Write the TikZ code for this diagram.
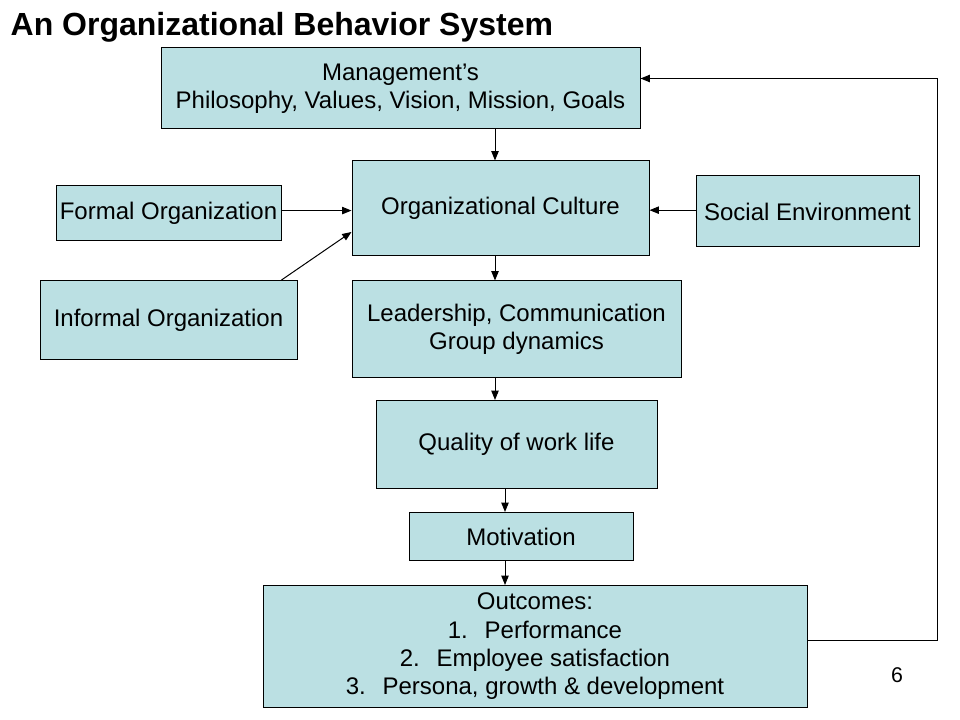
\documentclass[tikz,border=0pt]{standalone}
\usepackage{fontspec}
\setmainfont{Liberation Sans}
\usetikzlibrary{arrows.meta}
\definecolor{boxblue}{RGB}{187,224,227}
\newcommand{\boxfont}{\fontsize{18}{21.2}\selectfont}
\tikzset{
	obbox/.style={draw=black,line width=.75pt,fill=boxblue,align=center,
		inner sep=0pt,font=\boxfont},
	obarrow/.style={line width=.75pt,-{Triangle[length=7pt,width=5.5pt]}},
	obline/.style={line width=.75pt}
}
\begin{document}
\begin{tikzpicture}[x=.75pt,y=-.75pt]
				\useasboundingbox[fill=white] (0,0) rectangle (960,720);
				\node[anchor=base west,font=\fontsize{24}{28}\selectfont\bfseries]
					(title) at (6,36) {An Organizational Behavior System};
				\node[obbox,minimum width=359.25pt,minimum height=60.75pt]
					(mgmt) at (400.5,88.5)
					{Management’s\\Philosophy, Values, Vision, Mission, Goals};
				\node[obbox,minimum width=222.75pt,minimum height=71.25pt]
					(culture) at (500.5,208.5) {Organizational Culture};
				\node[obbox,minimum width=168.75pt,minimum height=41.25pt]
					(formal) at (168.5,213.5) {Formal Organization};
				\node[obbox,minimum width=167.25pt,minimum height=53.25pt]
					(social) at (807.5,211.5) {Social Environment};
				\node[obbox,minimum width=192.75pt,minimum height=59.25pt]
					(informal) at (168.5,320) {Informal Organization};
				\node[obbox,minimum width=246.75pt,minimum height=72pt]
					(leader) at (516.5,329)
					{Leadership, Communication\\Group dynamics};
				\node[obbox,minimum width=210.75pt,minimum height=66pt]
					(quality) at (516.5,444.5) {Quality of work life};
				\node[obbox,minimum width=168pt,minimum height=36pt]
					(motiv) at (521,536.5) {Motivation};
				\node[obbox,minimum width=408pt,minimum height=91.5pt]
					(outcomes) at (535,646.5)
					{Outcomes:\\1.\hspace{.7em}Performance\\
					 2.\hspace{.7em}Employee satisfaction\\
					 3.\hspace{.7em}Persona, growth \& development};
				\node[anchor=center,font=\fontsize{16}{18}\selectfont]
					(page) at (897,675) {6};
				\coordinate (spine) at (495,0);
				\coordinate (spineb) at (505,0);
				\coordinate (loop) at (937,0);
				\draw[obarrow] (mgmt.south -| spine) -- (culture.north -| spine);
				\draw[obarrow] (culture.south -| spine) -- (leader.north -| spine);
				\draw[obarrow] (leader.south -| spine) -- (quality.north -| spine);
				\draw[obarrow] (quality.south -| spineb) -- (motiv.north -| spineb);
				\draw[obarrow] (motiv.south -| spineb) -- (outcomes.north -| spineb);
				\draw[obarrow] ([yshift=2.2pt]formal.east)
					-- ([yshift=2.2pt]formal.east -| culture.west);
				\draw[obarrow] ([yshift=1pt]social.west)
					-- ([yshift=1pt]social.west -| culture.east);
				\draw[obarrow] ([xshift=-12pt]informal.north east)
					-- ([yshift=-17.6pt]culture.west);
				\draw[obarrow] ([yshift=4.5pt]outcomes.east)
					-- ([yshift=4.5pt]outcomes.east -| loop)
					-- ([yshift=7.5pt]mgmt.east -| loop)
					-- ([yshift=7.5pt]mgmt.east);
\end{tikzpicture}
\end{document}
